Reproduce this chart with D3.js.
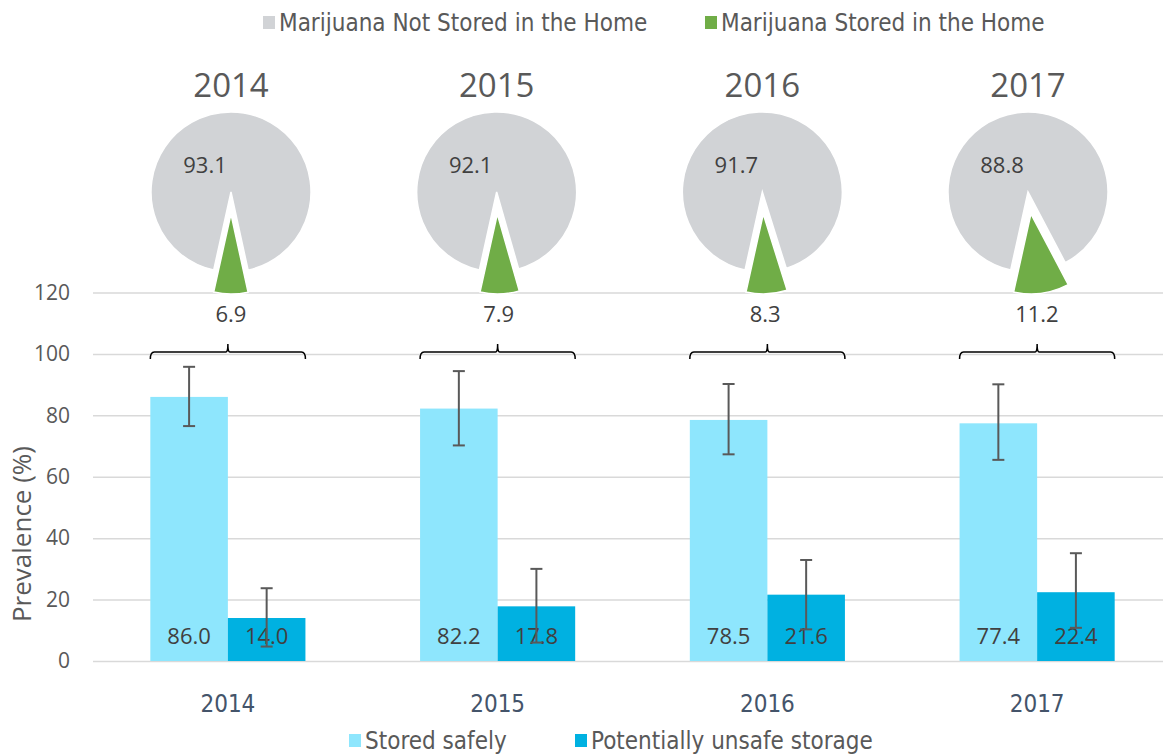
<!DOCTYPE html>
<html>
<head>
<meta charset="utf-8">
<script src="https://cdn.jsdelivr.net/npm/d3@7"></script>
<style>
  body { margin: 0; background: #fff; }
  svg { display: block; }
</style>
</head>
<body>
<div id="frame"></div>
<script>
// data
const years = ["2014", "2015", "2016", "2017"];
const notStored = [93.1, 92.1, 91.7, 88.8];
const stored = [6.9, 7.9, 8.3, 11.2];
const safe = [86.0, 82.2, 78.5, 77.4];
const unsafe = [14.0, 17.8, 21.6, 22.4];
const safeLow = [76.5, 70.2, 67.3, 65.5];
const safeHigh = [95.8, 94.4, 90.2, 90.1];
const unsafeLow = [4.7, 6.0, 10.3, 10.8];
const unsafeHigh = [23.7, 30.0, 32.9, 35.1];
const yTicks = [0, 20, 40, 60, 80, 100, 120];
const pieKeys = ["Marijuana Not Stored in the Home", "Marijuana Stored in the Home"];
const barKeys = ["Stored safely", "Potentially unsafe storage"];

// layout
const frameWidth = 1163;
const frameHeight = 755;
const plotLeft = 93;
const numFont = "'Open Sans', 'Noto Sans', sans-serif";
const condFont = "'DejaVu Sans Condensed', 'DejaVu Sans', sans-serif";

const pieColor = d3.scaleOrdinal().domain(pieKeys).range(["#d1d3d6", "#70ad47"]);
const barColor = d3.scaleOrdinal().domain(barKeys).range(["#8ee6fd", "#00b1e1"]);

let svg = d3.select("#frame")
        .append("svg")
        .attr("width", frameWidth)
        .attr("height", frameHeight)
        .style("font-family", numFont);

let y = d3.scaleLinear()
        .domain([0, 120])
        .range([661, 292.5]);

let x0 = d3.scaleBand()
        .domain(years)
        .range([plotLeft, 1172])
        .paddingInner(0.425)
        .paddingOuter(0.2125);

let x1 = d3.scaleBand()
        .domain(barKeys)
        .range([0, x0.bandwidth()]);

// gridlines + y tick labels
let yAxis = svg.append("g")
        .attr("transform", "translate(" + plotLeft + ",0)")
        .call(d3.axisLeft(y).tickValues(yTicks).tickSize(-(frameWidth - plotLeft)).tickPadding(23));
yAxis.select(".domain").remove();
yAxis.selectAll("line").attr("stroke", "#d9d9d9").attr("stroke-width", 1.5);
yAxis.selectAll("text")
        .attr("fill", "#595959")
        .style("font-size", "21px")
        .style("font-family", numFont);

svg.append("text")
        .attr("transform", "rotate(-90)")
        .attr("x", -534)
        .attr("y", 22)
        .attr("dy", "0.35em")
        .attr("text-anchor", "middle")
        .attr("fill", "#595959")
        .style("font-size", "26px")
        .text("Prevalence (%)");

// x axis labels
let xAxis = svg.append("g")
        .attr("transform", "translate(0," + y(0) + ")")
        .call(d3.axisBottom(x0).tickSize(0).tickPadding(34));
xAxis.select(".domain").remove();
xAxis.selectAll("text")
        .attr("fill", "#44546a")
        .style("font-size", "24px")
        .style("font-family", condFont);

// bars
let rows = years.map((yr, i) => ({
    year: yr,
    bars: [
        {key: barKeys[0], value: safe[i], lo: safeLow[i], hi: safeHigh[i]},
        {key: barKeys[1], value: unsafe[i], lo: unsafeLow[i], hi: unsafeHigh[i]}
    ]
}));

let groups = svg.append("g")
    .selectAll("g")
    .data(rows)
    .enter()
    .append("g")
    .attr("transform", d => "translate(" + x0(d.year) + ",0)");

groups.selectAll("rect")
    .data(d => d.bars)
    .enter()
    .append("rect")
    .attr("x", d => x1(d.key))
    .attr("y", d => y(d.value))
    .attr("width", x1.bandwidth())
    .attr("height", d => y(0) - y(d.value))
    .attr("fill", d => barColor(d.key));

groups.selectAll("text.val")
    .data(d => d.bars)
    .enter()
    .append("text")
    .attr("class", "val")
    .attr("x", d => x1(d.key) + x1.bandwidth() / 2)
    .attr("y", 636)
    .attr("dy", "0.35em")
    .attr("text-anchor", "middle")
    .attr("fill", "#404040")
    .style("font-size", "22px")
    .text(d => d.value.toFixed(1));

// error bars
let err = groups.selectAll("g.err")
    .data(d => d.bars)
    .enter()
    .append("g")
    .attr("class", "err")
    .attr("stroke", "#595959")
    .attr("stroke-width", 2);
err.append("line")
    .attr("x1", d => x1(d.key) + x1.bandwidth() / 2)
    .attr("x2", d => x1(d.key) + x1.bandwidth() / 2)
    .attr("y1", d => y(d.lo))
    .attr("y2", d => y(d.hi));
err.append("line")
    .attr("x1", d => x1(d.key) + x1.bandwidth() / 2 - 6)
    .attr("x2", d => x1(d.key) + x1.bandwidth() / 2 + 6)
    .attr("y1", d => y(d.hi))
    .attr("y2", d => y(d.hi));
err.append("line")
    .attr("x1", d => x1(d.key) + x1.bandwidth() / 2 - 6)
    .attr("x2", d => x1(d.key) + x1.bandwidth() / 2 + 6)
    .attr("y1", d => y(d.lo))
    .attr("y2", d => y(d.lo));

// brackets over each group
groups.append("path")
    .attr("fill", "none")
    .attr("stroke", "#000")
    .attr("stroke-width", 1.5)
    .attr("d", () => {
        let b = y(100) - 2;
        let w = x0.bandwidth();
        let c = w / 2;
        return "M0," + (b + 7) + " Q0," + b + " 4," + b +
            " L" + (c - 2) + "," + b + " Q" + c + "," + b + " " + c + "," + (b - 8) +
            " Q" + c + "," + b + " " + (c + 2) + "," + b +
            " L" + (w - 4) + "," + b + " Q" + w + "," + b + " " + w + "," + (b + 7);
    });

// pies
let pieX = d3.scalePoint().domain(years).range([231, 1028]);
const pieY = 192;
const pieR = 80;
const explode = 22;
const startA = 192.5 * Math.PI / 180;

let pie = d3.pie().sort(null).value(d => d.value)
        .startAngle(startA).endAngle(startA + 2 * Math.PI);
let arc = d3.arc().innerRadius(0).outerRadius(pieR);

years.forEach((yr, i) => {
    let slices = pie([
        {key: pieKeys[0], value: notStored[i]},
        {key: pieKeys[1], value: stored[i]}
    ]);
    let g = svg.append("g")
        .attr("transform", "translate(" + pieX(yr) + "," + pieY + ")");

    g.append("text")
        .attr("x", 0)
        .attr("y", -107)
        .attr("dy", "0.35em")
        .attr("text-anchor", "middle")
        .attr("fill", "#595959")
        .style("font-size", "33px")
        .text(yr);

    g.selectAll("path")
        .data(slices)
        .enter()
        .append("path")
        .attr("transform", (d, j) => {
            if (j === 0) return null;
            let mid = (d.startAngle + d.endAngle) / 2;
            return "translate(" + (Math.sin(mid) * explode) + "," + (-Math.cos(mid) * explode) + ")";
        })
        .attr("d", arc)
        .attr("fill", d => pieColor(d.data.key))
        .attr("stroke", "#fff")
        .attr("stroke-width", 1.5);

    let mid = (slices[1].startAngle + slices[1].endAngle) / 2;
    g.append("text")
        .attr("x", -26)
        .attr("y", -27)
        .attr("dy", "0.35em")
        .attr("text-anchor", "middle")
        .attr("fill", "#404040")
        .style("font-size", "22px")
        .text(notStored[i].toFixed(1));
    g.append("text")
        .attr("x", Math.sin(mid) * 67)
        .attr("y", 122)
        .attr("dy", "0.35em")
        .attr("text-anchor", "middle")
        .attr("fill", "#404040")
        .style("font-size", "22px")
        .text(stored[i].toFixed(1));
});

// legends
function legend(keys, color, xs, cy) {
    keys.forEach((k, i) => {
        svg.append("rect")
            .attr("x", xs[i])
            .attr("y", cy - 7)
            .attr("width", 12)
            .attr("height", 13)
            .attr("fill", color(k));
        svg.append("text")
            .attr("x", xs[i] + 16)
            .attr("y", cy)
            .attr("dy", "0.35em")
            .attr("fill", "#595959")
            .style("font-family", condFont)
            .style("font-size", "24px")
            .text(k);
    });
}
legend(pieKeys, pieColor, [263, 705], 23);
legend(barKeys, barColor, [349, 575], 741);
</script>
</body>
</html>
